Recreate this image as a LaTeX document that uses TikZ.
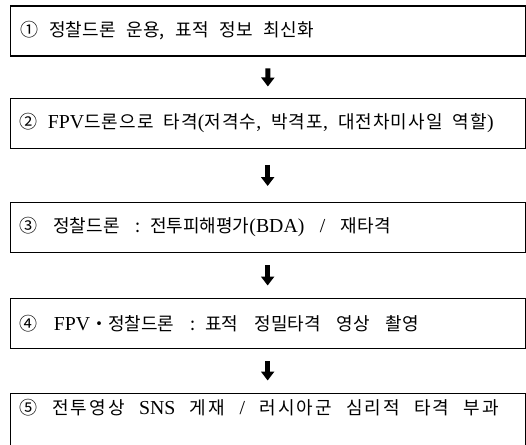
\documentclass[tikz,border=0pt]{standalone}
\usepackage{fontspec}
\setmainfont{Liberation Serif}[Scale=1.1]
\newfontfamily\kr{Noto Sans CJK KR}
\newfontfamily\krb{Noto Sans CJK KR}[LetterSpace=6]
\newfontfamily\krc{Noto Sans CJK KR}[LetterSpace=11]
\usetikzlibrary{arrows.meta}
\newcommand{\boxfont}{\fontsize{18}{21}\selectfont}
\newcommand{\widesp}[1]{\spaceskip=#1pt plus 0pt minus 0pt\relax}
\begin{document}
\begin{tikzpicture}[x=1pt,y=1pt,
  stepbox/.style={draw, line width=0.8pt, anchor=north west,
    minimum width=515.5pt, minimum height=50pt, text width=495.5pt,
    inner xsep=10pt, align=left, font=\boxfont},
  firstbox/.style={stepbox, line width=1.8pt},
  lastbox/.style={stepbox, minimum height=0pt, inner ysep=3pt,
    text height=18pt, text depth=45pt},
  darr/.style={line width=5pt, -{Triangle[width=13pt,length=9pt]},
    shorten <=#1, shorten >=#1}]
\useasboundingbox (0,0) rectangle (526,-444);
\node[firstbox] (b1) at (9.5,-5) {\widesp{11}\kr ① 정찰드론 운용, 표적 정보 최신화};
\node[stepbox] (b2) at (9.5,-98) {\widesp{10}{\krb ②} FPV{\krb 드론으로 타격}({\krb 저격수}, {\krb 박격포}, {\krb 대전차미사일 역할})};
\node[stepbox] (b3) at (9.5,-202) {\widesp{15.5}{\kr ③ 정찰드론 : 전투피해평가}(BDA) / {\kr 재타격}};
\node[stepbox] (b4) at (9.5,-298) {\widesp{16}{\kr ④} FPV{\kr ・정찰드론 : 표적 정밀타격 영상 촬영}};
\node[lastbox] (b5) at (9.5,-393) {\widesp{14.5}{\krc ⑤ 전투영상} SNS {\krc 게재} / {\krc 러시아군 심리적 타격 부과}};
\draw[darr=11.5pt] (b1) -- (b2);
\draw[darr=16pt] (b2) -- (b3);
\draw[darr=12.5pt] (b3) -- (b4);
\draw[darr=12.5pt] (b4) -- (b5.north);
\end{tikzpicture}
\end{document}
